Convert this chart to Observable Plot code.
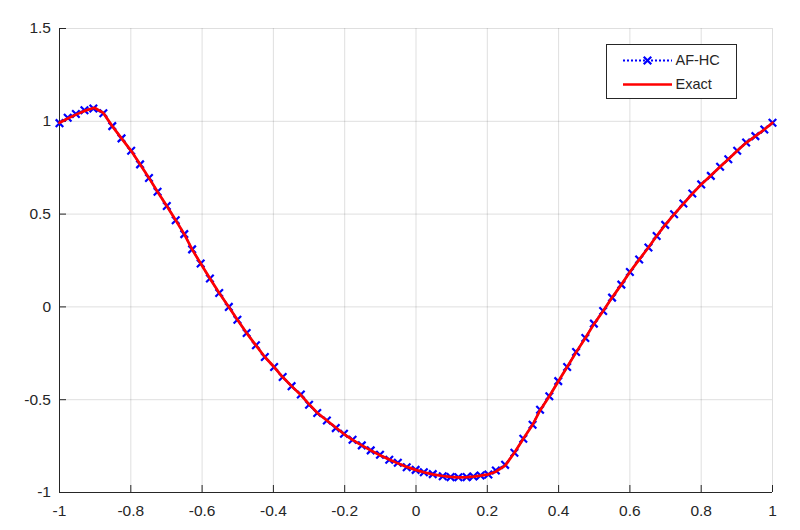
<!DOCTYPE html>
<html><head><meta charset="utf-8">
<script src="https://cdn.jsdelivr.net/npm/d3@7"></script>
<script src="https://cdn.jsdelivr.net/npm/@observablehq/plot@0.6"></script>
<style>
body{margin:0;background:#fff;}
#wrap{position:relative;width:800px;height:530px;}
#legend{position:absolute;left:605.5px;top:43.5px;width:131px;height:55px;border:1px solid #262626;background:#fff;box-sizing:border-box;font-family:"Liberation Sans",Arial,sans-serif;font-size:14.5px;color:#262626;}
#legend svg{position:absolute;left:0;top:0;}
.lt{position:absolute;left:69px;line-height:16px;}
</style></head><body><div id="wrap"><div id="legend"></div></div>
<script>
const xTicks = [-1, -0.8, -0.6, -0.4, -0.2, 0, 0.2, 0.4, 0.6, 0.8, 1];
const yTicks = [-1, -0.5, 0, 0.5, 1, 1.5];
const seriesNames = ["AF-HC", "Exact"];

const afX = [-1.000, -0.977, -0.954, -0.930, -0.905, -0.877, -0.852, -0.826, -0.799, -0.774,
  -0.749, -0.725, -0.699, -0.674, -0.650, -0.628, -0.604, -0.578, -0.552, -0.525,
  -0.501, -0.475, -0.449, -0.424, -0.398, -0.374, -0.349, -0.323, -0.300, -0.277,
  -0.250, -0.225, -0.202, -0.178, -0.152, -0.127, -0.101, -0.075, -0.051, -0.026,
  -0.001, 0.022, 0.047, 0.075, 0.097, 0.119, 0.142, 0.161, 0.181, 0.203,
  0.224, 0.250, 0.276, 0.301, 0.327, 0.348, 0.374, 0.399, 0.424, 0.449,
  0.475, 0.499, 0.525, 0.550, 0.576, 0.600, 0.626, 0.652, 0.675, 0.699,
  0.724, 0.750, 0.775, 0.800, 0.827, 0.853, 0.876, 0.901, 0.926, 0.952,
  0.977, 1.000];
const afY = [0.990, 1.019, 1.039, 1.060, 1.069, 1.043, 0.974, 0.908, 0.841, 0.768,
  0.695, 0.620, 0.544, 0.467, 0.392, 0.310, 0.234, 0.153, 0.075, 0.000,
  -0.069, -0.141, -0.207, -0.270, -0.324, -0.378, -0.427, -0.472, -0.527, -0.572,
  -0.612, -0.653, -0.683, -0.716, -0.746, -0.773, -0.797, -0.824, -0.840, -0.864,
  -0.878, -0.891, -0.901, -0.912, -0.917, -0.918, -0.917, -0.914, -0.908, -0.903,
  -0.881, -0.851, -0.786, -0.710, -0.635, -0.554, -0.481, -0.400, -0.324, -0.243,
  -0.168, -0.090, -0.022, 0.050, 0.120, 0.188, 0.255, 0.320, 0.382, 0.442,
  0.499, 0.557, 0.611, 0.660, 0.706, 0.755, 0.796, 0.841, 0.886, 0.920,
  0.956, 0.992];

const exactX = [-1.000, -0.977, -0.954, -0.930, -0.902, -0.877, -0.852, -0.826, -0.799, -0.774,
  -0.749, -0.725, -0.699, -0.674, -0.650, -0.628, -0.604, -0.578, -0.552, -0.525,
  -0.501, -0.475, -0.449, -0.424, -0.398, -0.374, -0.349, -0.323, -0.300, -0.277,
  -0.250, -0.225, -0.202, -0.178, -0.152, -0.127, -0.101, -0.075, -0.051, -0.026,
  -0.001, 0.022, 0.047, 0.075, 0.097, 0.119, 0.142, 0.161, 0.181, 0.203,
  0.224, 0.250, 0.276, 0.301, 0.327, 0.348, 0.374, 0.399, 0.424, 0.449,
  0.475, 0.499, 0.525, 0.550, 0.576, 0.600, 0.626, 0.652, 0.675, 0.699,
  0.724, 0.750, 0.775, 0.800, 0.827, 0.853, 0.876, 0.901, 0.926, 0.952,
  0.977, 1.000];
const exactY = [0.992, 1.015, 1.036, 1.056, 1.073, 1.045, 0.974, 0.908, 0.841, 0.768,
  0.695, 0.620, 0.544, 0.467, 0.392, 0.310, 0.234, 0.153, 0.075, 0.000,
  -0.069, -0.141, -0.207, -0.270, -0.324, -0.378, -0.427, -0.475, -0.524, -0.570,
  -0.612, -0.650, -0.685, -0.716, -0.746, -0.773, -0.799, -0.822, -0.843, -0.862,
  -0.878, -0.891, -0.902, -0.911, -0.916, -0.918, -0.917, -0.914, -0.909, -0.902,
  -0.888, -0.855, -0.786, -0.710, -0.635, -0.558, -0.481, -0.402, -0.324, -0.245,
  -0.168, -0.093, -0.022, 0.050, 0.120, 0.188, 0.255, 0.320, 0.382, 0.442,
  0.499, 0.555, 0.609, 0.660, 0.708, 0.755, 0.796, 0.841, 0.884, 0.920,
  0.956, 0.992];

const af = afX.map((x, i) => ({x, y: afY[i]}));
const exact = exactX.map((x, i) => ({x, y: exactY[i]}));

const ink = "#262626";
const fmt = d => String(d);
const W = 800, H = 530, mL = 59, mR = 28, mT = 28, mB = 38, tickLen = 7;

const chart = Plot.plot({
  width: W,
  height: H,
  marginLeft: mL,
  marginRight: mR,
  marginTop: mT,
  marginBottom: mB,
  style: {fontFamily: "'Liberation Sans', Arial, sans-serif", fontSize: "15.5px", color: ink, background: "#fff"},
  x: {domain: [xTicks[0], xTicks[xTicks.length - 1]]},
  y: {domain: [yTicks[0], yTicks[yTicks.length - 1]]},
  marks: [
    Plot.gridX(xTicks, {stroke: ink, strokeOpacity: 0.15, strokeWidth: 1}),
    Plot.gridY(yTicks, {stroke: ink, strokeOpacity: 0.15, strokeWidth: 1}),
    Plot.ruleX([xTicks[0]], {stroke: ink, strokeWidth: 1}),
    Plot.ruleY([yTicks[0]], {stroke: ink, strokeWidth: 1}),
    Plot.ruleX(xTicks, {stroke: ink, strokeWidth: 1, insetTop: H - mT - mB - tickLen}),
    Plot.ruleY(yTicks, {stroke: ink, strokeWidth: 1, insetRight: W - mL - mR - tickLen}),
    Plot.axisX(xTicks, {tickSize: 0, tickPadding: 12, tickFormat: fmt, fill: ink, fontSize: 15.5, label: null}),
    Plot.axisY(yTicks, {tickSize: 0, tickPadding: 8.5, tickFormat: fmt, fill: ink, fontSize: 15.5, label: null}),
    Plot.line(af, {x: "x", y: "y", stroke: "#0000ff", strokeWidth: 2, strokeDasharray: "2,2"}),
    Plot.dot(af, {x: "x", y: "y", symbol: "times", r: 3.5, stroke: "#0000ff", strokeWidth: 2.2}),
    Plot.line(exact, {x: "x", y: "y", stroke: "#ff0000", strokeWidth: 2.7})
  ]
});
const wrap = document.getElementById("wrap");
wrap.insertBefore(chart, wrap.firstChild);

const legend = document.getElementById("legend");
const sym = d3.symbol(d3.symbolTimes, Math.PI * 3.5 * 3.5)();
legend.innerHTML = `
<svg width="131" height="55">
  <line x1="16" x2="65" y1="15.5" y2="15.5" stroke="#0000ff" stroke-width="2" stroke-dasharray="2,2"/>
  <path d="${sym}" transform="translate(40.5,15.5)" fill="none" stroke="#0000ff" stroke-width="2.2"/>
  <line x1="16" x2="65" y1="39.5" y2="39.5" stroke="#ff0000" stroke-width="2.7"/>
</svg>
<div class="lt" style="top:7px">${seriesNames[0]}</div>
<div class="lt" style="top:31px">${seriesNames[1]}</div>`;
</script>
</body></html>
